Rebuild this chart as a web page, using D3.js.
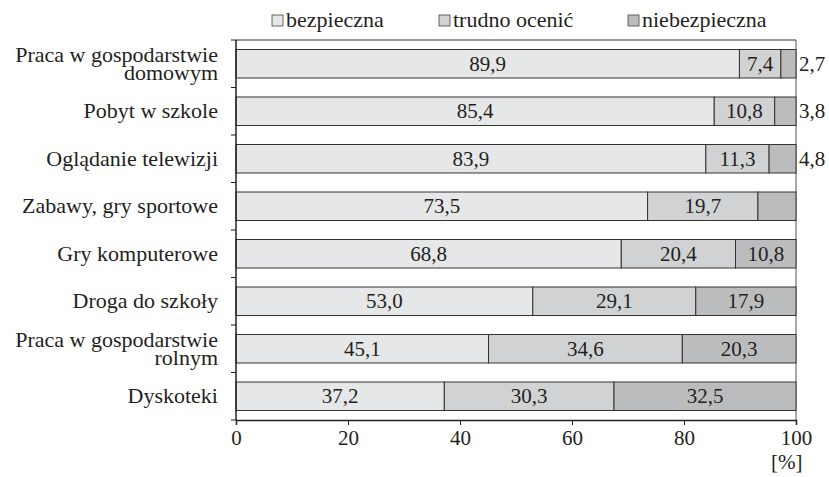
<!DOCTYPE html>
<html>
<head>
<meta charset="utf-8">
<script src="https://cdn.jsdelivr.net/npm/d3@7"></script>
</head>
<body style="margin:0">
<svg id="chart" width="829" height="477" font-family="Liberation Serif"></svg>
<script>
// Safety assessment of children's activities (stacked 100% bars)
const W = 829, H = 477;
const FONT = "Liberation Serif";

const categories = [
  ["Praca w gospodarstwie", "domowym"],
  ["Pobyt w szkole"],
  ["Oglądanie telewizji"],
  ["Zabawy, gry sportowe"],
  ["Gry komputerowe"],
  ["Droga do szkoły"],
  ["Praca w gospodarstwie", "rolnym"],
  ["Dyskoteki"]
];
const seriesNames = ["bezpieczna", "trudno ocenić", "niebezpieczna"];
const safe    = [89.9, 85.4, 83.9, 73.5, 68.8, 53.0, 45.1, 37.2];
const unsure  = [7.4, 10.8, 11.3, 19.7, 20.4, 29.1, 34.6, 30.3];
const unsafe  = [2.7, 3.8, 4.8, 6.8, 10.8, 17.9, 20.3, 32.5];
// value labels as printed (the 6,8 segment carries no label)
const unsafeLabels = ["2,7", "3,8", "4,8", "", "10,8", "17,9", "20,3", "32,5"];
const xTicks = [0, 20, 40, 60, 80, 100];

const fills = ["#e6e7e8", "#d1d2d4", "#bbbcbe"];
const ink = "#231f20";
const margin = { top: 40, right: 33, bottom: 57, left: 236 };

const svg = d3.select("#chart");

const x = d3.scaleLinear().domain([0, 100]).range([margin.left, W - margin.right]);
const y = d3.scaleBand().domain(d3.range(categories.length))
  .range([margin.top, H - margin.bottom]).paddingInner(0.4).paddingOuter(0.2);

const fmt = v => v.toFixed(1).replace(".", ",");

const rows = categories.map((c, i) => {
  const vals = [safe[i], unsure[i], unsafe[i]];
  let acc = 0;
  return vals.map((v, k) => {
    const seg = { row: i, k, x0: acc, x1: acc + v, v,
      label: k === 2 ? unsafeLabels[i] : fmt(v) };
    acc += v;
    return seg;
  });
});
const segs = rows.flat();

// frame: top and right lines
svg.append("line").attr("x1", x(0)).attr("x2", x(100))
  .attr("y1", margin.top).attr("y2", margin.top)
  .attr("stroke", "#333").attr("stroke-width", 1);
svg.append("line").attr("x1", x(100)).attr("x2", x(100))
  .attr("y1", margin.top).attr("y2", H - margin.bottom)
  .attr("stroke", "#555").attr("stroke-width", 1);

// bars
svg.append("g").selectAll("rect").data(segs).join("rect")
  .attr("x", d => x(d.x0))
  .attr("y", d => y(d.row))
  .attr("width", d => x(d.x1) - x(d.x0))
  .attr("height", y.bandwidth())
  .attr("fill", d => fills[d.k])
  .attr("stroke", "#333")
  .attr("stroke-width", 1);

// value labels
svg.selectAll("text.val").data(segs.filter(d => d.label)).join("text")
  .attr("class", "val")
  .attr("x", d => d.v < 5 ? x(100) + 3 : (x(d.x0) + x(d.x1)) / 2)
  .attr("y", d => y(d.row) + y.bandwidth() / 2 + 7)
  .attr("text-anchor", d => d.v < 5 ? "start" : "middle")
  .attr("font-size", 21)
  .attr("font-family", FONT)
  .attr("fill", ink)
  .text(d => d.label);

// x axis
const xAxis = svg.append("g")
  .attr("transform", `translate(0,${H - margin.bottom})`)
  .call(d3.axisBottom(x).tickValues(xTicks).tickSize(5).tickPadding(5).tickFormat(d => d));
xAxis.attr("font-family", FONT).attr("font-size", 21);
xAxis.select(".domain").attr("stroke", ink).attr("stroke-width", 1.5);
xAxis.selectAll(".tick line").attr("stroke", ink);
xAxis.selectAll("text").attr("font-family", FONT).attr("fill", ink);

svg.append("text").attr("x", x(100) - 25).attr("y", H - 8)
  .attr("font-size", 21).attr("font-family", FONT).attr("fill", ink).text("[%]");

// y axis: ticks at band boundaries
const step = y.step();
const boundaries = d3.range(categories.length + 1).map(i => margin.top + i * step);
svg.append("line").attr("x1", x(0)).attr("x2", x(0))
  .attr("y1", margin.top).attr("y2", H - margin.bottom)
  .attr("stroke", ink).attr("stroke-width", 1.5);
svg.append("g").selectAll("line").data(boundaries).join("line")
  .attr("x1", x(0) - 5).attr("x2", x(0))
  .attr("y1", d => d).attr("y2", d => d)
  .attr("stroke", ink);

// category labels, one text per line
const catLines = categories.flatMap((c, i) => c.map((t, j) => ({ t, i, off: (j - (c.length - 1) / 2) * 18 })));
svg.selectAll("text.cat").data(catLines).join("text")
  .attr("class", "cat")
  .attr("text-anchor", "end")
  .attr("font-size", 22)
  .attr("font-family", FONT)
  .attr("fill", ink)
  .attr("x", x(0) - 18)
  .attr("y", d => y(d.i) + y.bandwidth() / 2 + d.off + 7)
  .text(d => d.t);

// legend
const legendX = [272, 439, 628];
svg.selectAll("rect.key").data(seriesNames).join("rect")
  .attr("class", "key")
  .attr("x", (d, i) => legendX[i]).attr("y", 15).attr("width", 11).attr("height", 11)
  .attr("fill", (d, i) => fills[i]).attr("stroke", "#444").attr("stroke-width", 0.8);
svg.selectAll("text.key").data(seriesNames).join("text")
  .attr("class", "key")
  .attr("x", (d, i) => legendX[i] + 14).attr("y", 27)
  .attr("font-size", 22).attr("font-family", FONT).attr("fill", ink).text(d => d);
</script>
</body>
</html>
